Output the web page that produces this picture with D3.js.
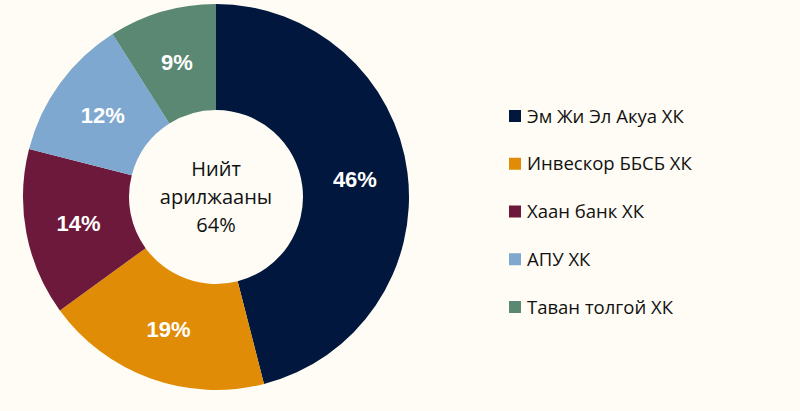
<!DOCTYPE html>
<html>
<head>
<meta charset="utf-8">
<script src="https://cdn.jsdelivr.net/npm/d3@7"></script>
<style>
  html, body { margin: 0; padding: 0; background: #fefcf4; }
  svg { display: block; }
  text { font-family: "Open Sans", "Noto Sans", sans-serif; }
</style>
</head>
<body>
<svg id="chart" width="800" height="411"></svg>
<script>
var companies = ["Эм Жи Эл Акуа ХК", "Инвескор ББСБ ХК", "Хаан банк ХК", "АПУ ХК", "Таван толгой ХК"];
var shares = [46, 19, 14, 12, 9];
var colors = ["#01173d", "#e08c06", "#6c193c", "#7ea8d0", "#5b8872"];
var centerLines = ["Нийт", "арилжааны", "64%"];

var width = 800, height = 411;
var cx = 216, cy = 197;
var outerR = 193, innerR = 87;

var data = companies.map(function(d, i){ return {name: d, value: shares[i], color: colors[i]}; });

var svg = d3.select("#chart");
svg.append("rect").attr("width", width).attr("height", height).attr("fill", "#fefcf4");

var pie = d3.pie().value(function(d){ return d.value; }).sort(null);
var arc = d3.arc().innerRadius(innerR).outerRadius(outerR);
var labelArc = d3.arc().innerRadius(140).outerRadius(140);

var g = svg.append("g").attr("transform", "translate(" + cx + "," + cy + ")");
var arcs = pie(data);

g.selectAll("path.slice")
  .data(arcs)
  .enter().append("path")
  .attr("class", "slice")
  .attr("d", arc)
  .attr("fill", function(d){ return d.data.color; });

g.selectAll("text.pct")
  .data(arcs)
  .enter().append("text")
  .attr("class", "pct")
  .attr("transform", function(d){ return "translate(" + labelArc.centroid(d) + ")"; })
  .attr("text-anchor", "middle")
  .attr("dy", "0.36em")
  .attr("fill", "#ffffff")
  .attr("font-weight", "bold")
  .attr("font-size", 22)
  .style("font-family", "'Liberation Sans', Arial, sans-serif")
  .text(function(d){ return d.data.value + "%"; });

// centre text
g.selectAll("text.center")
  .data(centerLines)
  .enter().append("text")
  .attr("class", "center")
  .attr("text-anchor", "middle")
  .attr("y", function(d, i){ return (i - 1) * 28; })
  .attr("dy", "0.36em")
  .attr("fill", "#111111")
  .attr("font-size", 20)
  .text(function(d){ return d; });

// legend
var legendY = d3.scalePoint().domain(companies).range([116, 307]);
var legend = svg.append("g");
var item = legend.selectAll("g.item")
  .data(data)
  .enter().append("g")
  .attr("class", "item")
  .attr("transform", function(d){ return "translate(509," + legendY(d.name) + ")"; });

item.append("rect")
  .attr("x", 0).attr("y", -6)
  .attr("width", 12).attr("height", 12)
  .attr("fill", function(d){ return d.color; });

item.append("text")
  .attr("x", 18)
  .attr("dy", "0.36em")
  .attr("fill", "#111111")
  .attr("font-size", 18.5)
  .text(function(d){ return d.name; });
</script>
</body>
</html>
